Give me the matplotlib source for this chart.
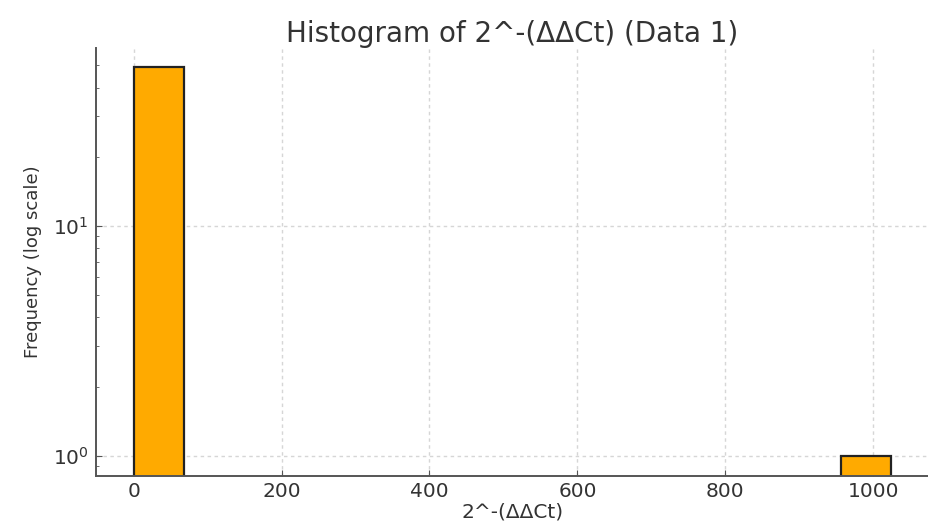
import numpy as np
import matplotlib
matplotlib.use("Agg")
import matplotlib.pyplot as plt

# bin edges (15 equal bins over 0..1024) and counts per bin
bin_edges = np.linspace(0, 1024, 16)
counts = [49, 0, 0, 0, 0, 0, 0, 0, 0, 0, 0, 0, 0, 0, 1]

title = "Histogram of 2^-(ΔΔCt) (Data 1)"
xlabel = "2^-(ΔΔCt)"
ylabel = "Frequency (log scale)"

fig = plt.figure(figsize=(9.29, 5.22), dpi=100)
ax = fig.add_axes([0.103, 0.089, 0.897, 0.819])

ax.hist(bin_edges[:-1], bins=bin_edges, weights=counts,
        color="#FFAA00", edgecolor="#222222", linewidth=1.6, log=True, zorder=2)

ax.set_xlim(-51.2, 1075.2)
ax.set_ylim(0.821, 59.4)
ax.set_xticks([0, 200, 400, 600, 800, 1000])

ax.grid(True, which="major", linestyle=(0, (2.5, 2.5)), color="#d6d6d6", linewidth=1.0, zorder=0)
ax.spines["top"].set_visible(False)
ax.spines["right"].set_visible(False)
for s in ("left", "bottom"):
    ax.spines[s].set_color("#555555")
    ax.spines[s].set_linewidth(1.4)

ax.tick_params(axis="both", which="both", direction="in", colors="#555555",
               labelcolor="#333333", labelsize=14.5)
ax.tick_params(axis="both", which="major", length=4, pad=5)
ax.tick_params(axis="y", which="minor", length=2.5)

ax.set_title(title, fontsize=20, color="#333333", pad=4)
ax.set_xlabel(xlabel, fontsize=14.5, color="#333333", labelpad=1)
ax.set_ylabel(ylabel, fontsize=13, color="#333333", labelpad=8)

fig.savefig("out.png", dpi=100)
